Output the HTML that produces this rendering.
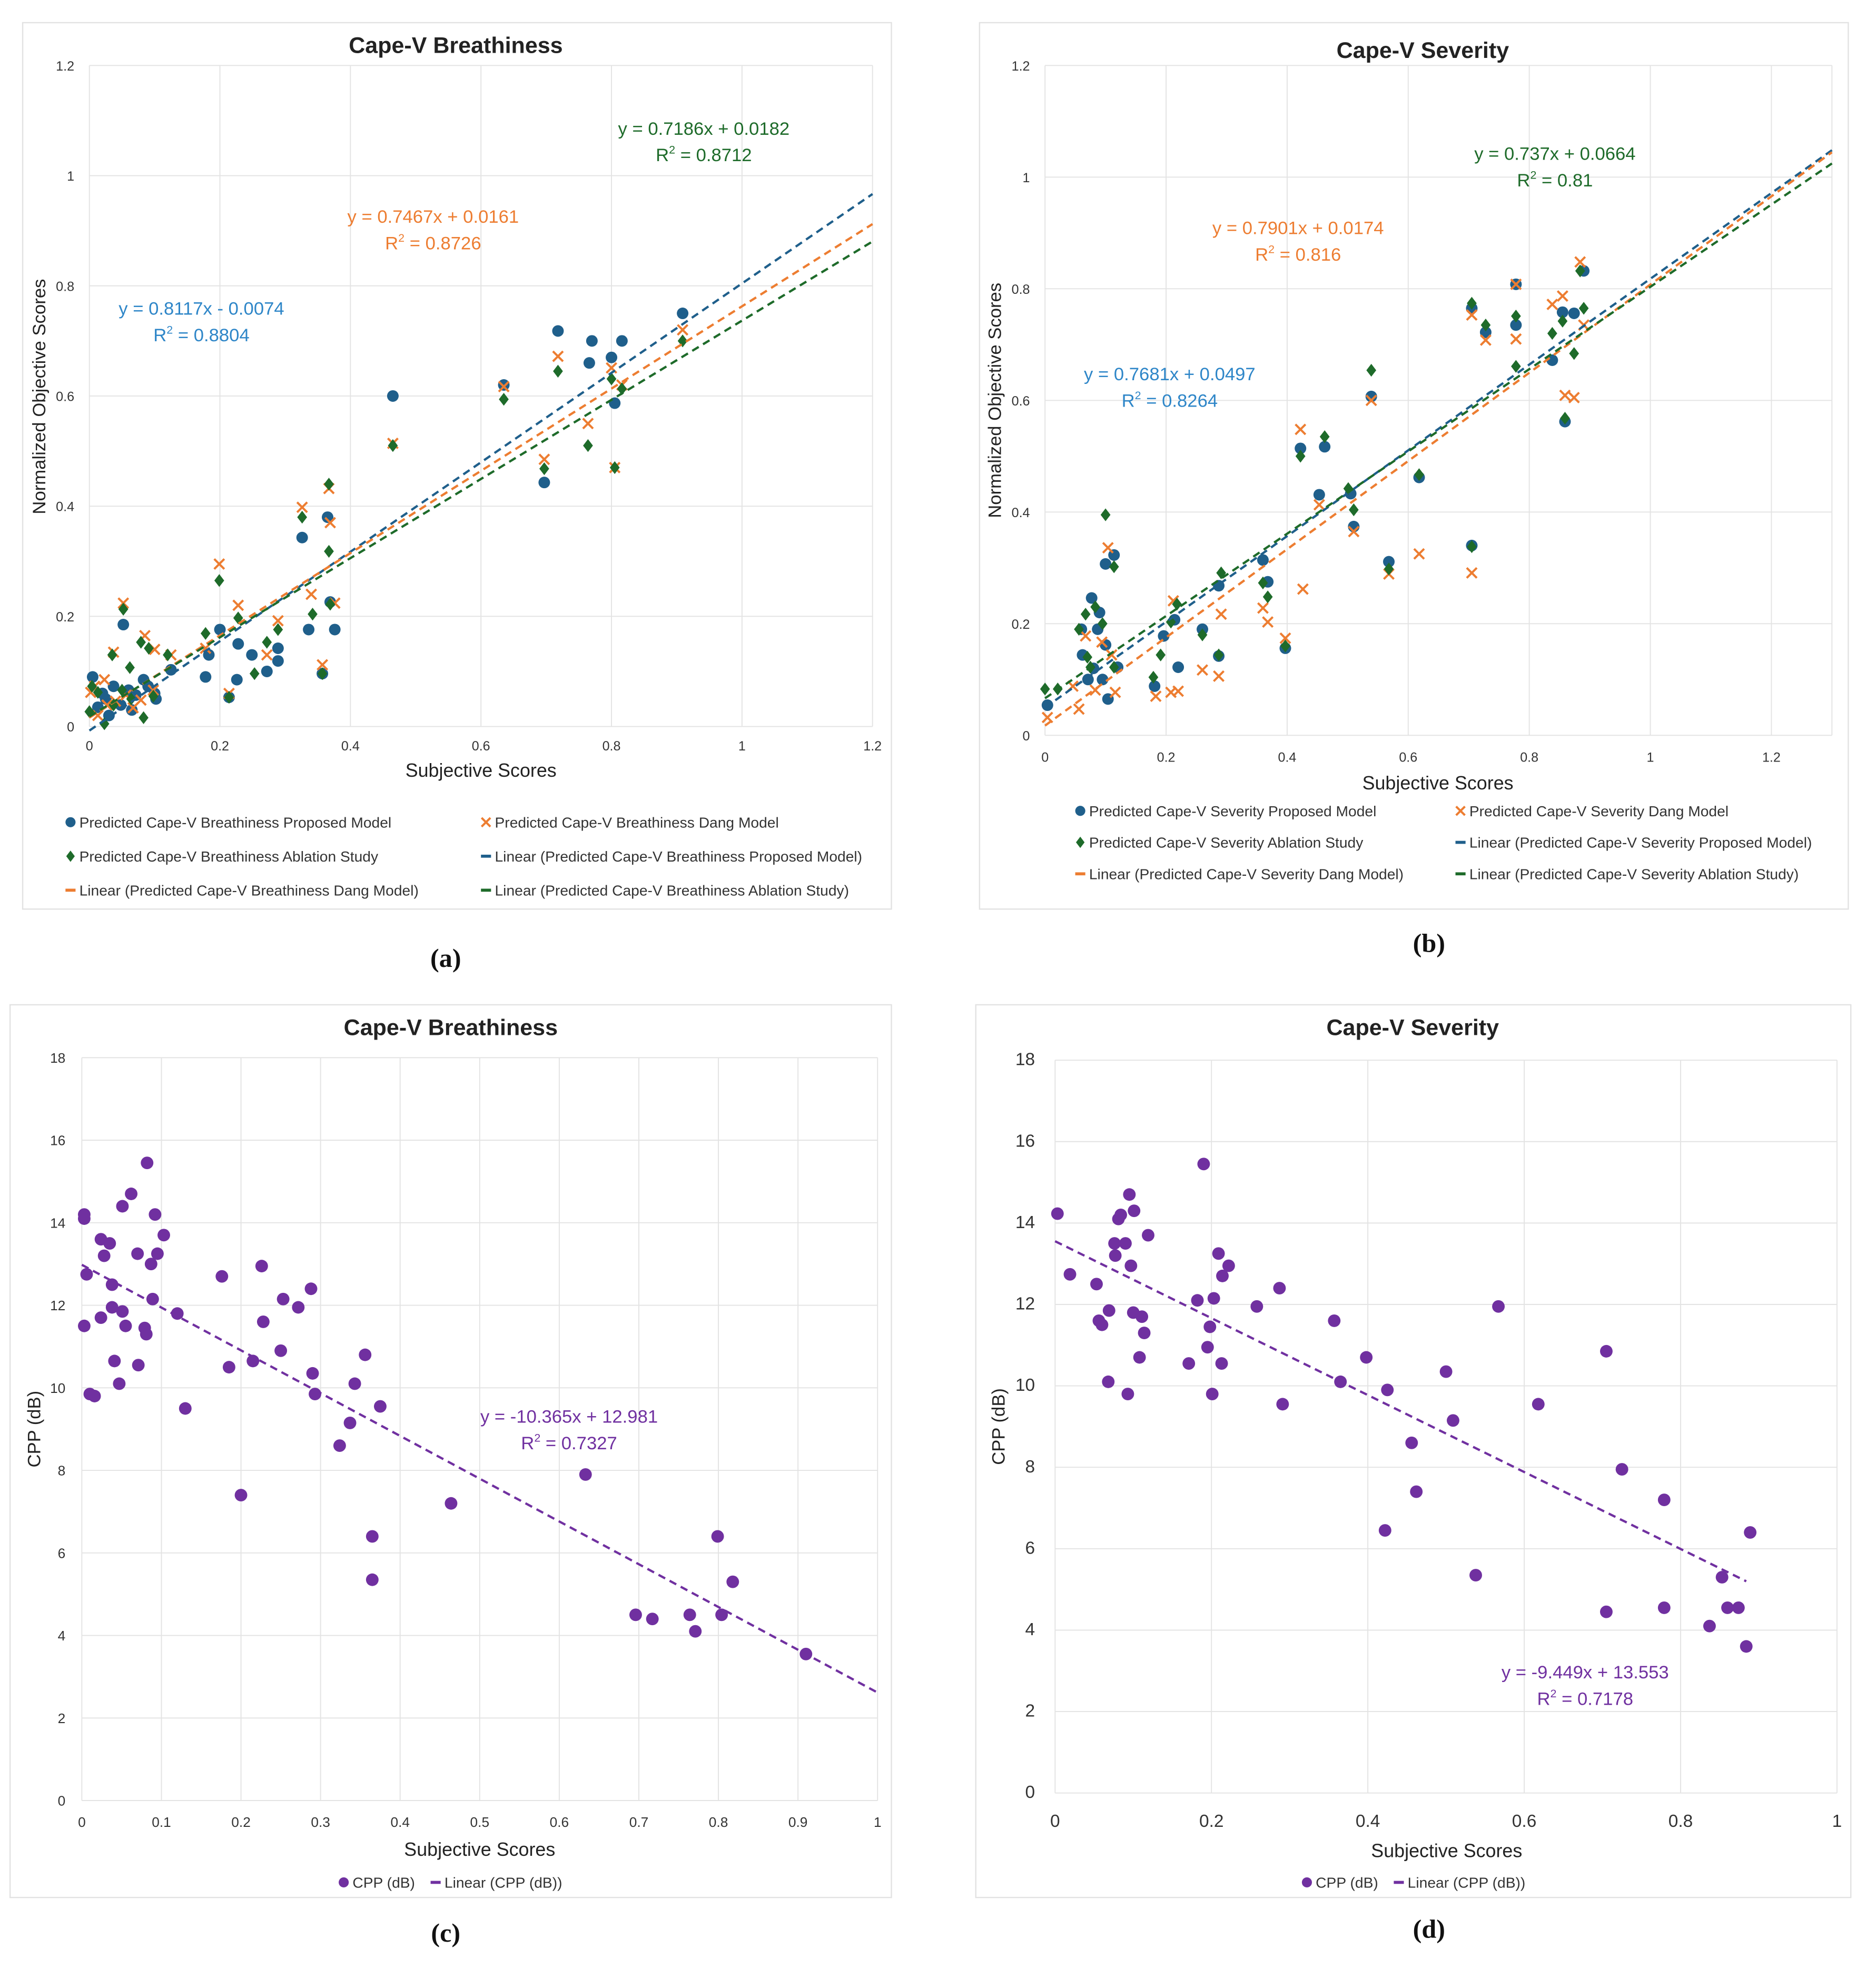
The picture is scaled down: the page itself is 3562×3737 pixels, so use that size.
<!DOCTYPE html>
<html><head><meta charset="utf-8"><style>
html,body{margin:0;padding:0;background:#fff;}
svg{display:block;}
text{font-family:"Liberation Sans",sans-serif;}
</style></head><body>
<svg id="root" xmlns="http://www.w3.org/2000/svg" width="3562" height="3737" viewBox="0 0 1490 1563" preserveAspectRatio="none"></svg>
<script>
// ---------- Panel (a) data: Cape-V Breathiness ----------
const aProposed = [[0.697,0.443],[0.718,0.718],[0.766,0.66],[0.77,0.70],[0.80,0.67],[0.805,0.587],[0.816,0.70],[0.909,0.75],[0.635,0.62],[0.465,0.60],[0.365,0.38],[0.326,0.343],[0.369,0.226],[0.376,0.176],[0.357,0.096],[0.336,0.176],[0.289,0.119],[0.289,0.142],[0.272,0.10],[0.249,0.13],[0.228,0.15],[0.226,0.085],[0.214,0.053],[0.2,0.176],[0.183,0.13],[0.178,0.09],[0.125,0.103],[0.102,0.05],[0.083,0.085],[0.052,0.185],[0.005,0.09],[0.013,0.035],[0.025,0.05],[0.037,0.073],[0.048,0.039],[0.06,0.066],[0.071,0.057],[0.09,0.073],[0.02,0.06],[0.065,0.03],[0.1,0.06],[0.03,0.02]];
const aDang = [[0.718,0.672],[0.764,0.55],[0.8,0.651],[0.805,0.47],[0.816,0.62],[0.909,0.72],[0.697,0.485],[0.635,0.617],[0.465,0.514],[0.326,0.398],[0.369,0.37],[0.367,0.432],[0.34,0.24],[0.376,0.224],[0.357,0.112],[0.289,0.192],[0.228,0.22],[0.199,0.295],[0.214,0.06],[0.272,0.13],[0.178,0.142],[0.125,0.13],[0.085,0.165],[0.052,0.224],[0.037,0.135],[0.002,0.062],[0.013,0.02],[0.027,0.039],[0.04,0.046],[0.056,0.057],[0.067,0.034],[0.079,0.048],[0.098,0.066],[0.008,0.073],[0.023,0.085],[0.1,0.14]];
const aAblation = [[0.718,0.645],[0.764,0.51],[0.8,0.631],[0.805,0.47],[0.816,0.613],[0.909,0.70],[0.697,0.468],[0.635,0.594],[0.465,0.51],[0.326,0.38],[0.367,0.44],[0.367,0.318],[0.342,0.204],[0.369,0.222],[0.357,0.096],[0.289,0.176],[0.228,0.197],[0.199,0.265],[0.214,0.053],[0.253,0.096],[0.272,0.153],[0.178,0.169],[0.12,0.13],[0.079,0.153],[0.052,0.213],[0.035,0.13],[0.062,0.107],[0.091,0.142],[0.0,0.027],[0.013,0.062],[0.023,0.005],[0.037,0.039],[0.05,0.066],[0.064,0.05],[0.083,0.016],[0.098,0.055],[0.004,0.073]];
const aFits = [[0.8117,-0.0074],[0.7467,0.0161],[0.7186,0.0182]];
const aTicksX = [0,0.2,0.4,0.6,0.8,1,1.2];
const aTicksY = [0,0.2,0.4,0.6,0.8,1,1.2];

// ---------- Panel (b) data: Cape-V Severity ----------
const bProposed = [[0.004,0.054],[0.077,0.246],[0.1,0.307],[0.114,0.323],[0.087,0.19],[0.062,0.144],[0.071,0.1],[0.1,0.162],[0.104,0.065],[0.12,0.122],[0.181,0.088],[0.196,0.178],[0.214,0.207],[0.22,0.122],[0.26,0.19],[0.287,0.268],[0.287,0.142],[0.36,0.314],[0.368,0.275],[0.397,0.156],[0.422,0.514],[0.453,0.431],[0.462,0.517],[0.505,0.433],[0.51,0.374],[0.539,0.607],[0.568,0.311],[0.618,0.462],[0.705,0.34],[0.705,0.765],[0.728,0.722],[0.778,0.808],[0.778,0.735],[0.838,0.672],[0.855,0.758],[0.859,0.562],[0.874,0.756],[0.89,0.832],[0.06,0.19],[0.09,0.22],[0.08,0.12],[0.095,0.1]];
const bDang = [[0.004,0.032],[0.056,0.047],[0.067,0.178],[0.083,0.081],[0.104,0.336],[0.11,0.144],[0.116,0.077],[0.183,0.07],[0.208,0.077],[0.212,0.241],[0.22,0.079],[0.26,0.117],[0.287,0.106],[0.291,0.217],[0.36,0.228],[0.368,0.203],[0.397,0.174],[0.422,0.548],[0.426,0.262],[0.453,0.413],[0.51,0.365],[0.539,0.6],[0.568,0.289],[0.618,0.325],[0.705,0.291],[0.705,0.753],[0.728,0.708],[0.778,0.808],[0.778,0.71],[0.838,0.772],[0.855,0.787],[0.859,0.609],[0.874,0.605],[0.884,0.848],[0.89,0.735],[0.046,0.088],[0.094,0.167]];
const bAblation = [[0.0,0.083],[0.021,0.083],[0.056,0.19],[0.067,0.217],[0.083,0.23],[0.1,0.395],[0.114,0.302],[0.075,0.122],[0.114,0.122],[0.179,0.104],[0.191,0.144],[0.208,0.203],[0.218,0.235],[0.26,0.18],[0.291,0.291],[0.287,0.144],[0.36,0.273],[0.368,0.248],[0.397,0.16],[0.422,0.5],[0.462,0.535],[0.501,0.442],[0.51,0.404],[0.539,0.654],[0.568,0.298],[0.618,0.467],[0.705,0.774],[0.705,0.338],[0.728,0.735],[0.778,0.751],[0.778,0.661],[0.838,0.72],[0.855,0.742],[0.859,0.568],[0.874,0.684],[0.884,0.832],[0.89,0.765],[0.07,0.14],[0.095,0.2]];
const bFits = [[0.7681,0.0497],[0.7901,0.0174],[0.737,0.0664]];
const bTicksX = [0,0.2,0.4,0.6,0.8,1,1.2];
const bTicksY = [0,0.2,0.4,0.6,0.8,1,1.2];

// ---------- Panel (c) data: CPP vs Breathiness ----------
const cCpp = [[0.003,14.2],[0.003,14.1],[0.006,12.75],[0.003,11.5],[0.01,9.85],[0.016,9.8],[0.024,13.6],[0.028,13.2],[0.024,11.7],[0.035,13.5],[0.038,12.5],[0.038,11.95],[0.041,10.65],[0.047,10.1],[0.051,11.85],[0.051,14.4],[0.055,11.5],[0.062,14.7],[0.07,13.25],[0.071,10.55],[0.079,11.45],[0.081,11.3],[0.082,15.45],[0.087,13.0],[0.089,12.15],[0.092,14.2],[0.095,13.25],[0.103,13.7],[0.12,11.8],[0.13,9.5],[0.176,12.7],[0.185,10.5],[0.2,7.4],[0.215,10.65],[0.226,12.95],[0.228,11.6],[0.25,10.9],[0.253,12.15],[0.272,11.95],[0.288,12.4],[0.29,10.35],[0.293,9.85],[0.324,8.6],[0.337,9.15],[0.343,10.1],[0.356,10.8],[0.365,6.4],[0.365,5.35],[0.375,9.55],[0.464,7.2],[0.633,7.9],[0.696,4.5],[0.717,4.4],[0.764,4.5],[0.771,4.1],[0.799,6.4],[0.804,4.5],[0.818,5.3],[0.91,3.55]];
const cFit = [-10.365,12.981];
const cTicksX = [0,0.1,0.2,0.3,0.4,0.5,0.6,0.7,0.8,0.9,1];
const cTicksY = [0,2,4,6,8,10,12,14,16,18];

// ---------- Panel (d) data: CPP vs Severity ----------
const dCpp = [[0.003,14.23],[0.019,12.74],[0.053,12.5],[0.056,11.6],[0.06,11.5],[0.068,10.1],[0.069,11.85],[0.076,13.5],[0.077,13.2],[0.081,14.1],[0.084,14.2],[0.09,13.5],[0.093,9.8],[0.095,14.7],[0.097,12.95],[0.1,11.8],[0.101,14.3],[0.108,10.7],[0.111,11.7],[0.114,11.3],[0.119,13.7],[0.171,10.55],[0.182,12.1],[0.19,15.45],[0.195,10.95],[0.198,11.45],[0.201,9.8],[0.203,12.15],[0.209,13.25],[0.213,10.55],[0.214,12.7],[0.222,12.95],[0.258,11.95],[0.287,12.4],[0.291,9.55],[0.357,11.6],[0.365,10.1],[0.398,10.7],[0.422,6.45],[0.425,9.9],[0.456,8.6],[0.462,7.4],[0.5,10.35],[0.509,9.15],[0.538,5.35],[0.567,11.95],[0.618,9.55],[0.705,10.85],[0.705,4.45],[0.725,7.95],[0.779,4.55],[0.779,7.2],[0.837,4.1],[0.853,5.3],[0.86,4.55],[0.874,4.55],[0.884,3.6],[0.889,6.4]];
const dFit = [-9.449,13.553];
const dTicksX = [0,0.2,0.4,0.6,0.8,1];
const dTicksY = [0,2,4,6,8,10,12,14,16,18];

const NS = "http://www.w3.org/2000/svg";
const root = document.getElementById('root');
const BLUE = '#1F5F8B', BLUEL = '#2E86C8', ORANGE = '#ED7D31', GREEN = '#1E6B2A', PURPLE = '#7030A0';

function el(tag, attrs, parent, txt) {
  const e = document.createElementNS(NS, tag);
  for (const k in attrs) e.setAttribute(k, attrs[k]);
  if (txt !== undefined) e.textContent = txt;
  (parent || root).appendChild(e);
  return e;
}
function fmt(v){ return String(Math.round(v*100)/100); }

function axes(g, P, ticksX, ticksY) {
  const sx = v => P.x0 + (v - P.xmin) / (P.xmax - P.xmin) * (P.x1 - P.x0);
  const sy = v => P.y0 - (v - P.ymin) / (P.ymax - P.ymin) * (P.y0 - P.y1);
  ticksX.forEach(t => {
    const l = el('line', {x1:sx(t), x2:sx(t), y1:P.y0, y2:P.y1, stroke:'#e3e3e3', 'stroke-width':0.8}, g);
    
    
    const tx = el('text', {x:sx(t), y:P.y0 + P.tickdy, 'font-size':P.tickfs, 'text-anchor':'middle', fill:'#333'}, g, fmt(t));
    
    
  });
  ticksY.forEach(t => {
    const l = el('line', {x1:P.x0, x2:P.x1, y1:sy(t), y2:sy(t), stroke:'#e3e3e3', 'stroke-width':0.8}, g);
    
    
    const tx = el('text', {x:P.x0 - P.tickdx, y:sy(t) + 4, 'font-size':P.tickfs, 'text-anchor':'end', fill:'#333'}, g, fmt(t));
    
    
  });
  return {sx, sy};
}

function marker(g, type, x, y, color, r) {
  let m;
  if (type === 'circle') m = el('circle', {cx:x, cy:y, r:r, fill:color}, g);
  else if (type === 'diamond') m = el('polygon', {points:`${x},${y-r-0.5} ${x+r*0.85},${y} ${x},${y+r+0.5} ${x-r*0.85},${y}`, fill:color}, g);
  else m = el('path', {d:`M${x-r},${y-r}L${x+r},${y+r}M${x-r},${y+r}L${x+r},${y-r}`, stroke:color, 'stroke-width':1.7, fill:'none'}, g);
  return m;
}

function frame(x, y, w, h, name) {
  const g = el('g', {});
  
  
  el('rect', {x:x, y:y, width:w, height:h, fill:'#fff', stroke:'#e2e2e2', 'stroke-width':1}, g);
  return g;
}
function text(g, x, y, s, fs, opts, name) {
  const a = Object.assign({x:x, y:y, 'font-size':fs, 'text-anchor':'middle', fill:'#222'}, opts || {});
  const t = el('text', a, g, s);
  
  
  return t;
}
function fitLine(g, s, m, b, xa, xb, color, name) {
  const l = el('line', {x1:s.sx(xa), y1:s.sy(m*xa+b), x2:s.sx(xb), y2:s.sy(m*xb+b), stroke:color, 'stroke-width':1.8, 'stroke-dasharray':'6,4'}, g);
  
  
}
function eq(g, x, y, m, b, r2, color, name) {
  const sign = b < 0 ? ' - ' : ' + ';
  text(g, x, y, `y = ${m}x${sign}${Math.abs(b)}`, 14.5, {fill:color}, name + '-equation');
  const t = el('text', {x:x, y:y + 21, 'font-size':14.5, 'text-anchor':'middle', fill:color}, g);
  
  
  t.innerHTML = `R<tspan dy="-6" font-size="9">2</tspan><tspan dy="6"> = ${r2}</tspan>`;
}
function legendItem(g, x, y, type, color, label) {
  const lg = el('g', {}, g);
  
  
  if (type === 'dash') el('rect', {x:x-4, y:y-1.2, width:8, height:2.4, fill:color}, lg);
  else marker(lg, type, x, y, color, type === 'x' ? 3.5 : 4);
  el('text', {x:x+7, y:y+4.2, 'font-size':11.8, fill:'#333'}, lg, label);
}

// ===== Panel A =====
(function(){
  const g = frame(18, 18, 690, 704, 'panel-a-breathiness-chart');
  const P = {x0:71, x1:693, y0:577, y1:52, xmin:0, xmax:1.2, ymin:0, ymax:1.2, tickfs:10.5, tickdx:12, tickdy:19};
  const s = axes(g, P, aTicksX, aTicksY);
  text(g, 362, 42, 'Cape-V Breathiness', 18, {'font-weight':'bold'}, 'chart-title');
  text(g, 382, 617, 'Subjective Scores', 15, {}, 'x-axis-title');
  text(g, 0, 0, 'Normalized Objective Scores', 14.5, {transform:'translate(36,315) rotate(-90)'}, 'y-axis-title');
  aProposed.forEach(p => { const m = marker(g, 'circle', s.sx(p[0]), s.sy(p[1]), BLUE, 4.6);
    
     });
  aDang.forEach(p => { const m = marker(g, 'x', s.sx(p[0]), s.sy(p[1]), ORANGE, 4);
    
     });
  aAblation.forEach(p => { const m = marker(g, 'diamond', s.sx(p[0]), s.sy(p[1]), GREEN, 4.6);
    
     });
  fitLine(g, s, aFits[0][0], aFits[0][1], 0, 1.2, BLUE, 'trendline-proposed');
  fitLine(g, s, aFits[1][0], aFits[1][1], 0, 1.2, ORANGE, 'trendline-dang');
  fitLine(g, s, aFits[2][0], aFits[2][1], 0, 1.2, GREEN, 'trendline-ablation');
  eq(g, 160, 250, aFits[0][0], aFits[0][1], 0.8804, BLUEL, 'proposed');
  eq(g, 344, 177, aFits[1][0], aFits[1][1], 0.8726, ORANGE, 'dang');
  eq(g, 559, 107, aFits[2][0], aFits[2][1], 0.8712, GREEN, 'ablation');
  legendItem(g, 56, 653, 'circle', BLUE, 'Predicted Cape-V Breathiness Proposed Model');
  legendItem(g, 386, 653, 'x', ORANGE, 'Predicted Cape-V Breathiness Dang Model');
  legendItem(g, 56, 680, 'diamond', GREEN, 'Predicted Cape-V Breathiness Ablation Study');
  legendItem(g, 386, 680, 'dash', BLUE, 'Linear (Predicted Cape-V Breathiness Proposed Model)');
  legendItem(g, 56, 707, 'dash', ORANGE, 'Linear (Predicted Cape-V Breathiness Dang Model)');
  legendItem(g, 386, 707, 'dash', GREEN, 'Linear (Predicted Cape-V Breathiness Ablation Study)');
})();

// ===== Panel B =====
(function(){
  const g = frame(778, 18, 690, 704, 'panel-b-severity-chart');
  const P = {x0:830, x1:1455, y0:584, y1:52, xmin:0, xmax:1.3, ymin:0, ymax:1.2, tickfs:10.5, tickdx:12, tickdy:21};
  const s = axes(g, P, bTicksX, bTicksY);
  // extra right boundary grid
  el('line', {x1:1455, x2:1455, y1:584, y2:52, stroke:'#e3e3e3', 'stroke-width':0.8}, g);
  text(g, 1130, 46, 'Cape-V Severity', 18, {'font-weight':'bold'}, 'chart-title');
  text(g, 1142, 627, 'Subjective Scores', 15, {}, 'x-axis-title');
  text(g, 0, 0, 'Normalized Objective Scores', 14.5, {transform:'translate(795,318) rotate(-90)'}, 'y-axis-title');
  bProposed.forEach(p => { const m = marker(g, 'circle', s.sx(p[0]), s.sy(p[1]), BLUE, 4.6);
    
     });
  bDang.forEach(p => { const m = marker(g, 'x', s.sx(p[0]), s.sy(p[1]), ORANGE, 4);
    
     });
  bAblation.forEach(p => { const m = marker(g, 'diamond', s.sx(p[0]), s.sy(p[1]), GREEN, 4.6);
    
     });
  fitLine(g, s, bFits[0][0], bFits[0][1], 0, 1.3, BLUE, 'trendline-proposed');
  fitLine(g, s, bFits[1][0], bFits[1][1], 0, 1.3, ORANGE, 'trendline-dang');
  fitLine(g, s, bFits[2][0], bFits[2][1], 0, 1.3, GREEN, 'trendline-ablation');
  eq(g, 929, 302, bFits[0][0], bFits[0][1], 0.8264, BLUEL, 'proposed');
  eq(g, 1031, 186, bFits[1][0], bFits[1][1], 0.816, ORANGE, 'dang');
  eq(g, 1235, 127, bFits[2][0], bFits[2][1], 0.81, GREEN, 'ablation');
  legendItem(g, 858, 644, 'circle', BLUE, 'Predicted Cape-V Severity Proposed Model');
  legendItem(g, 1160, 644, 'x', ORANGE, 'Predicted Cape-V Severity Dang Model');
  legendItem(g, 858, 669, 'diamond', GREEN, 'Predicted Cape-V Severity  Ablation Study');
  legendItem(g, 1160, 669, 'dash', BLUE, 'Linear (Predicted Cape-V Severity Proposed Model)');
  legendItem(g, 858, 694, 'dash', ORANGE, 'Linear (Predicted Cape-V Severity Dang Model)');
  legendItem(g, 1160, 694, 'dash', GREEN, 'Linear (Predicted Cape-V Severity  Ablation Study)');
})();

// ===== Panel C =====
(function(){
  const g = frame(8, 798, 700, 709, 'panel-c-cpp-breathiness-chart');
  const P = {x0:65, x1:697, y0:1430, y1:840, xmin:0, xmax:1, ymin:0, ymax:18, tickfs:11, tickdx:13, tickdy:21};
  const s = axes(g, P, cTicksX, cTicksY);
  text(g, 358, 822, 'Cape-V Breathiness', 18, {'font-weight':'bold'}, 'chart-title');
  text(g, 381, 1474, 'Subjective Scores', 15, {}, 'x-axis-title');
  text(g, 0, 0, 'CPP (dB)', 14.5, {transform:'translate(32,1135) rotate(-90)'}, 'y-axis-title');
  cCpp.forEach(p => { const m = marker(g, 'circle', s.sx(p[0]), s.sy(p[1]), PURPLE, 5);
    
     });
  fitLine(g, s, cFit[0], cFit[1], 0, 1, PURPLE, 'trendline-cpp');
  eq(g, 452, 1130, cFit[0], cFit[1], 0.7327, PURPLE, 'cpp');
  legendItem(g, 273, 1495, 'circle', PURPLE, 'CPP (dB)');
  legendItem(g, 346, 1495, 'dash', PURPLE, 'Linear (CPP (dB))');
})();

// ===== Panel D =====
(function(){
  const g = frame(775, 798, 695, 709, 'panel-d-cpp-severity-chart');
  const P = {x0:838, x1:1459, y0:1424, y1:842, xmin:0, xmax:1, ymin:0, ymax:18, tickfs:14, tickdx:16, tickdy:27};
  const s = axes(g, P, dTicksX, dTicksY);
  text(g, 1122, 822, 'Cape-V Severity', 18, {'font-weight':'bold'}, 'chart-title');
  text(g, 1149, 1475, 'Subjective Scores', 15, {}, 'x-axis-title');
  text(g, 0, 0, 'CPP (dB)', 14.5, {transform:'translate(798,1133) rotate(-90)'}, 'y-axis-title');
  dCpp.forEach(p => { const m = marker(g, 'circle', s.sx(p[0]), s.sy(p[1]), PURPLE, 5);
    
     });
  fitLine(g, s, dFit[0], dFit[1], 0, 0.884, PURPLE, 'trendline-cpp');
  eq(g, 1259, 1333, dFit[0], dFit[1], 0.7178, PURPLE, 'cpp');
  legendItem(g, 1038, 1495, 'circle', PURPLE, 'CPP (dB)');
  legendItem(g, 1111, 1495, 'dash', PURPLE, 'Linear (CPP (dB))');
})();

// ===== Subfigure labels =====
[['(a)',354,768],['(b)',1135,756],['(c)',354,1542],['(d)',1135,1539]].forEach(l => {
  const t = el('text', {x:l[1], y:l[2], 'font-size':21, 'font-weight':'bold', 'text-anchor':'middle', fill:'#111', style:'font-family:"Liberation Serif",serif'}, root, l[0]);
  
  
});
</script>
</body></html>
